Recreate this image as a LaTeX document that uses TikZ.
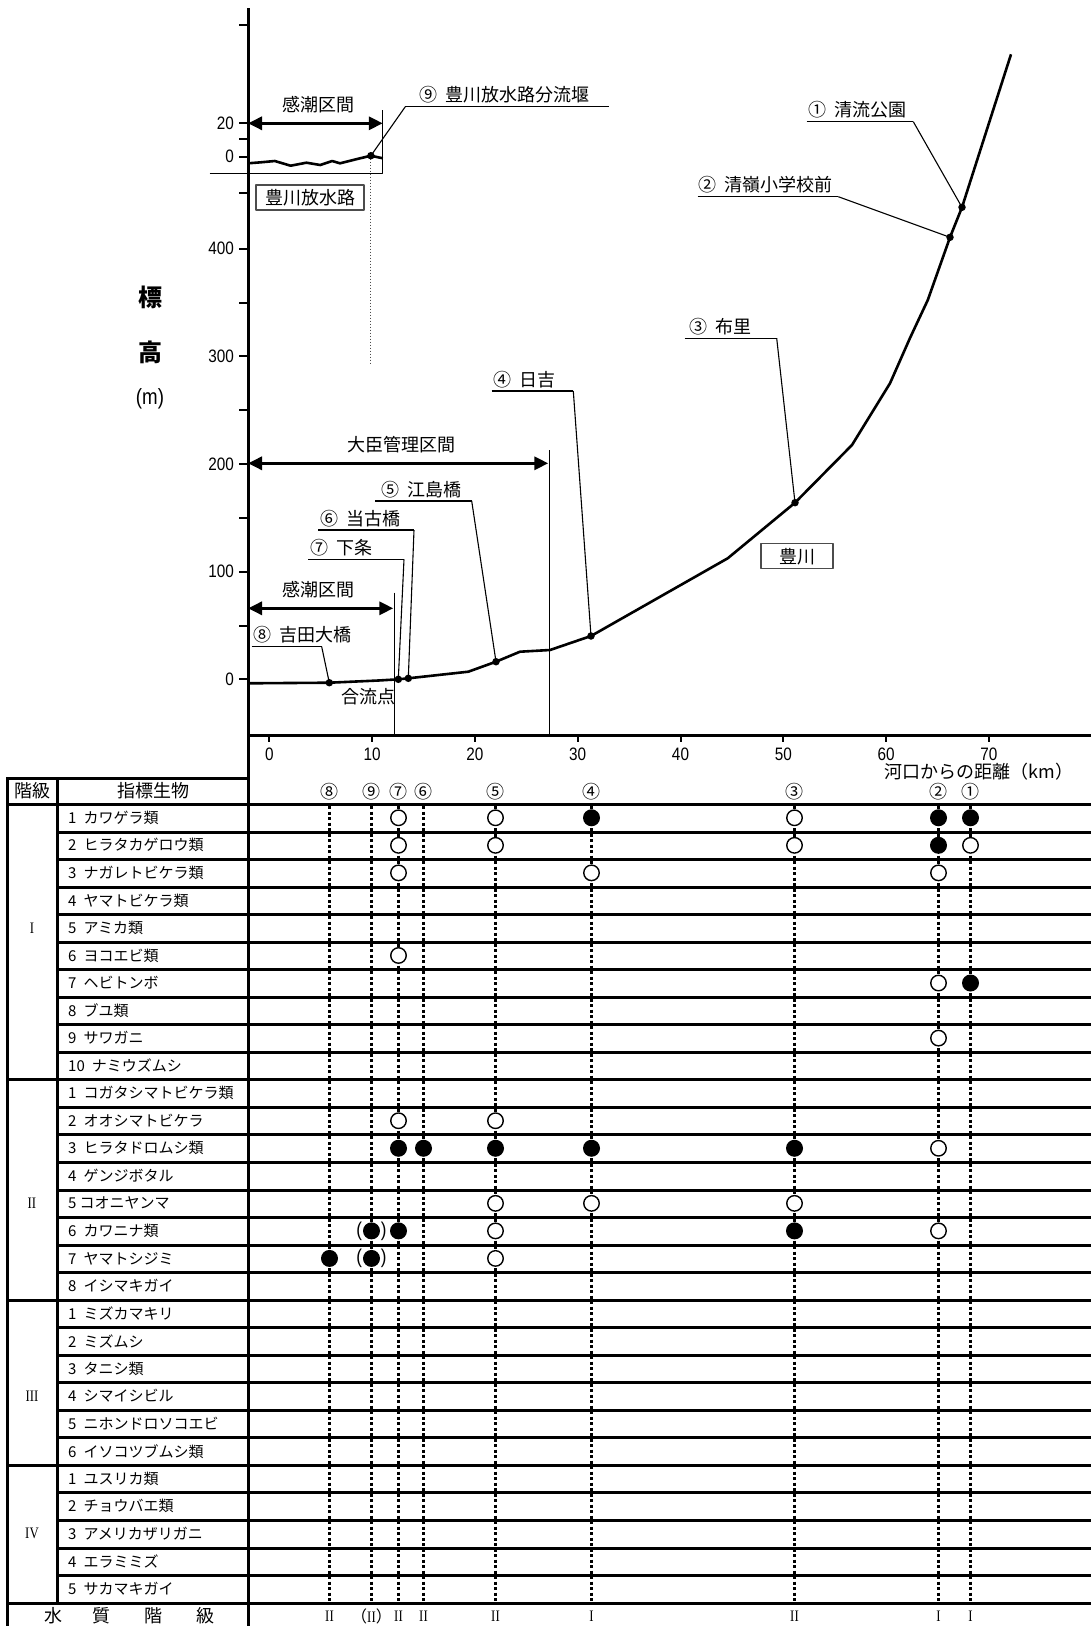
\documentclass[tikz,border=0pt]{standalone}
\usepackage{fontspec}
\setmainfont{Noto Sans CJK JP}
\newfontfamily\numfont[FakeStretch=0.85]{Liberation Sans}
\newfontfamily\romanfont[FakeStretch=0.8]{Liberation Serif}
\usetikzlibrary{positioning, arrows.meta}

\begin{document}
\begin{tikzpicture}[x=1pt, y=-1pt, line join=round,
    axisline/.style={line width=3pt},
    tabline/.style={line width=3pt},
    thinline/.style={line width=1.2pt},
    leader/.style={line width=1.1pt},
    river/.style={line width=2.6pt},
    spanarrow/.style={line width=3pt, {Triangle[length=14pt,width=13pt]}-{Triangle[length=14pt,width=13pt]}},
    stline/.style={line width=3pt, dash pattern=on 3pt off 2.5pt},
    stdot/.style={circle, fill, inner sep=0pt, minimum size=7.5pt},
    openmark/.style={circle, draw, fill=white, line width=1.4pt, inner sep=0pt, minimum size=15.5pt},
    fullmark/.style={circle, fill, inner sep=0pt, minimum size=17pt},
    txt/.style={font=\fontsize{18}{20}\selectfont, inner sep=0pt},
    rowtxt/.style={font=\fontsize{15}{18}\selectfont, inner sep=0pt, anchor=west},
    numtxt/.style={font=\numfont\fontsize{18}{20}\selectfont, inner sep=0pt},
    paren/.style={font=\numfont\fontsize{20}{22}\selectfont, inner sep=0pt},
    romantxt/.style={font=\fontsize{16}{18}\selectfont, inner sep=0pt},
    namebox/.style={draw=black!70, line width=1.3pt, font=\fontsize{18}{20}\selectfont, inner xsep=9pt, inner ysep=0pt, minimum height=25pt},
    bigt/.style={font=\bfseries\fontsize{24}{26}\selectfont, inner sep=0pt}
  ]
  \useasboundingbox (0,0) rectangle (1091,1626);

  \draw[axisline] (248.5,8) -- (248.5,1626);
  \draw[axisline] (248,735.5) -- (1091,735.5);
  \foreach \yy in {25,123.3,139.3,156.7,192.7,248.7,302.5,356.3,410.2,464,517.8,571.6,625.5,679.3}
    \draw[line width=2pt] (239,\yy) -- (248,\yy);
  \foreach \yy/\vv [count=\i] in {123.3/20,156.7/0,248.7/400,356.3/300,464/200,571.6/100,679.3/0}
    \node[numtxt, anchor=east] (yl\i) at (234,\yy) {\vv};
  \foreach \k in {0,...,7} {
    \pgfmathtruncatemacro\xv{10*\k}
    \draw[line width=2pt] ({269.3+102.8*\k},735) -- ({269.3+102.8*\k},742);
    \node[numtxt] (xl\k) at ({269.3+102.8*\k},754) {\xv};
  }
  \node[txt] (xtitle) at (979,772) {河口からの距離（km）};
  \node[bigt] (yt1) at (150,297.6) {標};
  \node[bigt] (yt2) at (150,352.6) {高};
  \node[font=\numfont\fontsize{22}{24}\selectfont, inner sep=0pt] (yt3) at (150,399) {(m)};

  \draw[thinline] (209.6,173.3) -- (382.8,173.3) -- (382.8,110);
  \draw[river] plot coordinates {(248,163.3) (261,162.3) (274.8,161) (290.6,165.7) (306.4,162.7) (320.3,165) (332.1,161) (340,163.3) (355.9,159.3) (370.9,155.7) (382.8,158.3)};
  \coordinate (k1a) at (248,123.3);
  \coordinate (k1b) at (382.8,123.3);
  \draw[spanarrow] (k1a) -- (k1b);
  \node[txt] (kan1) at (318.3,105) {感潮区間};
  \node[namebox] (hsr) at (310,197.5) {豊川放水路};

  \coordinate (p1) at (962,207.3);
  \coordinate (p2) at (950,237.3);
  \coordinate (p3) at (795,502.7);
  \coordinate (p4) at (591,636);
  \coordinate (p5) at (496,661.7);
  \coordinate (p6) at (408.3,678.3);
  \coordinate (p7) at (398.3,679.3);
  \coordinate (p8) at (329.3,682.7);
  \coordinate (p9) at (370.9,155.7);
  \draw[river] (248,683.3) -- (p8) -- (378.3,680.5) -- (p7) -- (p6) -- (468.3,671.7) -- (p5) -- (520,651.7) -- (550,650) -- (p4) -- (727.7,558.3) -- (p3) -- (852,445) -- (890,383.3) -- (910,338) -- (927.8,300) -- (p2) -- (p1) -- (1011,54.3);

  \draw[thinline] (394.3,592.7) -- (394.3,735);
  \draw[thinline] (549.3,450) -- (549.3,735);
  \coordinate (k2a) at (248,608.3);
  \coordinate (k2b) at (393.3,608.3);
  \draw[spanarrow] (k2a) -- (k2b);
  \node[txt] (kan2) at (318.3,589.3) {感潮区間};
  \coordinate (dja) at (248,463.3);
  \coordinate (djb) at (548.3,463.3);
  \draw[spanarrow] (dja) -- (djb);
  \node[txt] (dj) at (401.7,445) {大臣管理区間};
  \node[txt] (gouryu) at (368.3,696.7) {合流点};
  \node[namebox, minimum width=72pt] (toyo) at (797,556.3) {豊川};

  \foreach \nm/\xa/\xb/\yy/\tx/\cn/\lb in {1/806.7/913.3/121.7/808/①/清流公園, 2/697.7/838.3/196.7/698/②/清嶺小学校前, 3/684.6/776.7/338.3/689.7/③/布里, 4/491.7/573.3/391/493/④/日吉, 5/375/471.7/501/381.7/⑤/江島橋, 6/318.3/414/530/320/⑥/当古橋, 7/308.3/404/559.3/310/⑦/下条, 8/251.7/321.7/646.7/253/⑧/吉田大橋, 9/405.3/609/106.7/419/⑨/豊川放水路分流堰} {
    \coordinate (ul\nm) at (\xa,\yy);
    \coordinate (ur\nm) at (\xb,\yy);
    \node[txt, anchor=base west] (lab\nm) at (\tx,{\yy-5}) {\cn\hspace{8pt}\lb};
    \draw[leader] (ul\nm) -- (ur\nm);
  }
  \foreach \nm in {1,...,8}
    \draw[leader] (ur\nm) -- (p\nm);
  \draw[leader] (ul9) -- (p9);
  \coordinate (p9low) at (370.9,365);
  \draw[line width=1pt, black!70, dash pattern=on 1.5pt off 1.5pt] (p9) -- (p9low);
  \foreach \nm in {1,...,9}
    \node[stdot] (d\nm) at (p\nm) {};

  \draw[tabline] (7,778.5) -- (248,778.5);
  \draw[tabline] (7.5,777) -- (7.5,1626);
  \draw[tabline] (57.5,778) -- (57.5,1603);
  \foreach \i in {0,...,29}
    \draw[tabline] (57,{round(804+27.54*\i)+0.5}) -- (1091,{round(804+27.54*\i)+0.5});
  \foreach \i in {0,10,18,24,29}
    \draw[tabline] (7,{round(804+27.54*\i)+0.5}) -- (57,{round(804+27.54*\i)+0.5});
  \node[txt] (hd1) at (32,791) {階級};
  \node[txt] (hd2) at (153,791) {指標生物};

  \foreach \nm/\lb [count=\i from 0] in {1/カワゲラ類, 2/ヒラタカゲロウ類, 3/ナガレトビケラ類, 4/ヤマトビケラ類, 5/アミカ類, 6/ヨコエビ類, 7/ヘビトンボ, 8/ブユ類, 9/サワガニ, 10/ナミウズムシ, 1/コガタシマトビケラ類, 2/オオシマトビケラ, 3/ヒラタドロムシ類, 4/ゲンジボタル, 5/\hspace{-4pt}コオニヤンマ, 6/カワニナ類, 7/ヤマトシジミ, 8/イシマキガイ, 1/ミズカマキリ, 2/ミズムシ, 3/タニシ類, 4/シマイシビル, 5/ニホンドロソコエビ, 6/イソコツブムシ類, 1/ユスリカ類, 2/チョウバエ類, 3/アメリカザリガニ, 4/エラミミズ, 5/サカマキガイ}
    \node[rowtxt] (sp\i) at (68,{804+27.54*(\i+0.5)}) {\nm\hspace{7pt}\lb};
  \foreach \gg/\rw in {I/4, II/14, III/21, IV/26}
    \node[romantxt] (grp\rw) at (hd1 |- sp\rw) {\romanfont\gg};

  \coordinate (hb) at (0,806);
  \coordinate (tb) at (0,1603);
  \foreach \st/\xx/\cn/\qq in {8/329.5/⑧/{\romanfont II}, 9/371.5/⑨/（{\romanfont II}）, 7/398.5/⑦/{\romanfont II}, 6/423.5/⑥/{\romanfont II}, 5/495.5/⑤/{\romanfont II}, 4/591.5/④/{\romanfont I}, 3/794.5/③/{\romanfont II}, 2/938.5/②/{\romanfont I}, 1/970.5/①/{\romanfont I}} {
    \node[txt] (st\st) at (\xx,791.7) {\cn};
    \node[romantxt] (wq\st) at (\xx,1616.7) {\qq};
    \draw[stline] (st\st |- hb) -- (st\st |- tb);
  }
  \foreach \rw/\st in {0/7,0/5,0/3,1/7,1/5,1/3,1/1,2/7,2/4,2/2,5/7,6/2,8/2,11/7,11/5,12/2,14/5,14/4,14/3,15/5,15/2,16/5}
    \node[openmark] (o\rw-\st) at (st\st |- sp\rw) {};
  \foreach \rw/\st in {0/4,0/2,0/1,1/2,6/1,12/7,12/6,12/5,12/4,12/3,15/9,15/7,15/3,16/8,16/9}
    \node[fullmark] (f\rw-\st) at (st\st |- sp\rw) {};
  \foreach \rw in {15,16} {
    \node[paren, left=0.5pt of f\rw-9] (pl\rw) {(};
    \node[paren, right=0.5pt of f\rw-9] (pr\rw) {)};
  }
  \foreach \cn/\xx [count=\i] in {水/54, 質/101, 階/153, 級/205}
    \node[txt] (wqt\i) at (\xx,1616) {\cn};
\end{tikzpicture}
\end{document}
